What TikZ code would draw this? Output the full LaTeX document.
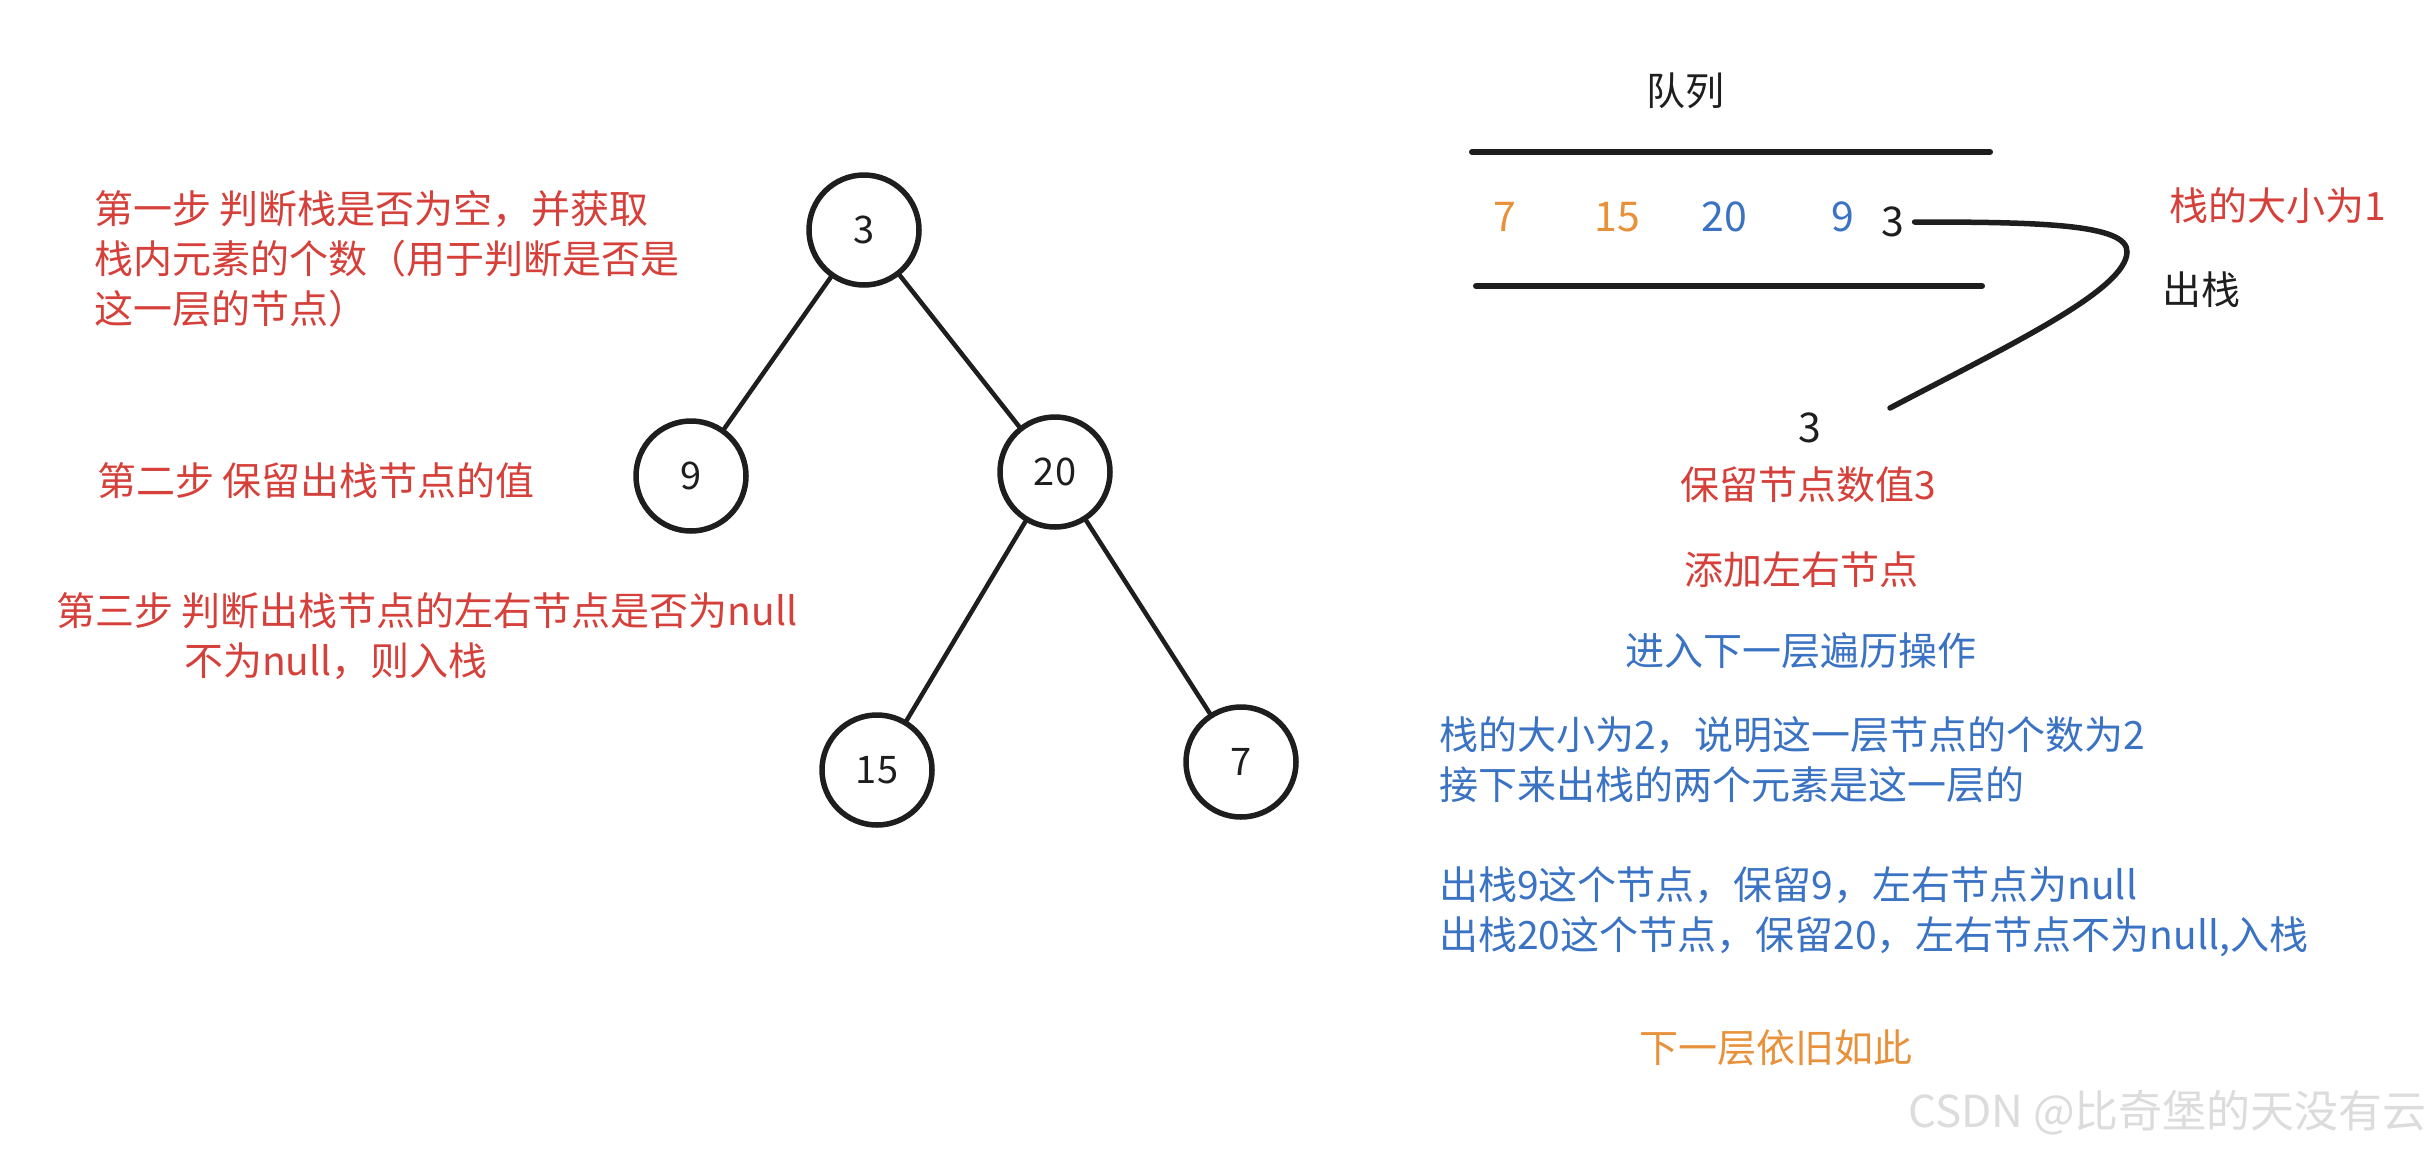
\documentclass[tikz,border=0pt]{standalone}
\usepackage{fontspec}
\setmainfont{Noto Sans CJK SC}
\usepackage{tikz}
\definecolor{stepred}{HTML}{D6403A}
\definecolor{levelblue}{HTML}{3A72C4}
\definecolor{nextorange}{HTML}{E8913A}
\definecolor{inkblack}{HTML}{1E1E1E}
\definecolor{markgray}{HTML}{DCDCDC}

\begin{document}
\begin{tikzpicture}[
  x=1pt, y=-1pt,
  every node/.style={inner sep=0pt, text=inkblack},
  tnode/.style={circle, draw=inkblack, line width=5.5pt, minimum size=110pt,
                font=\fontsize{38}{38}\selectfont},
  edge/.style={line width=4.5pt, draw=inkblack, line cap=round},
  rail/.style={line width=6pt, draw=inkblack, line cap=round},
  note/.style={font=\fontsize{39}{50}\selectfont, align=left, anchor=north west},
  ctext/.style={font=\fontsize{39}{50}\selectfont, align=center},
  qnum/.style={font=\fontsize{41}{41}\selectfont},
]
  \fill[white] (0,0) rectangle (2432,1154);
  \useasboundingbox (0,0) rectangle (2432,1154);

  \node[tnode] (n3) at (864,230) {3};
  \node[tnode] (n9) at (691,476) {9};
  \node[tnode] (n20) at (1055,472) {20};
  \node[tnode] (n15) at (877,770) {15};
  \node[tnode] (n7) at (1241,762) {7};

  \draw[edge] (n3) -- (n9);
  \draw[edge] (n3) -- (n20);
  \draw[edge] (n20) -- (n15);
  \draw[edge] (n20) -- (n7);

  \node[note, text=stepred] (step1) at (94,190) {第一步 判断栈是否为空，并获取\\栈内元素的个数（用于判断是否是\\这一层的节点）};
  \node[note, text=stepred] (step2) at (97,462) {第二步 保留出栈节点的值};
  \node[note, text=stepred] (step3) at (56,592) {第三步 判断出栈节点的左右节点是否为null\\\hspace{128pt}不为null，则入栈};

  \node[ctext] (qtitle) at (1685,91) {队列};
  \draw[rail] (1472,152) -- (1990,152);
  \draw[rail] (1476,286) -- (1982,286);
  \node[qnum, text=nextorange] (q7) at (1505,217) {7};
  \node[qnum, text=nextorange] (q15) at (1617,217) {15};
  \node[qnum, text=levelblue] (q20) at (1724,217) {20};
  \node[qnum, text=levelblue] (q9) at (1843,217) {9};
  \node[qnum] (q3) at (1893,222) {3};
  \node[ctext, text=stepred] (size1) at (2278,206) {栈的大小为1};
  \node[ctext] (pop) at (2201,290) {出栈};
  \node[qnum] (out3) at (1810,428) {3};
  \coordinate (popend) at (1890,408);
  \draw[edge, line width=5.5pt] ([xshift=10pt]q3.east) .. controls (2040,222) and (2128,224) .. (2127,252)
    .. controls (2126,290) and (2010,345) .. (popend);

  \node[ctext, text=stepred] (keep) at (1808,485) {保留节点数值3};
  \node[ctext, text=stepred] (addlr) at (1801,570) {添加左右节点};
  \node[ctext, text=levelblue] (nextlvl) at (1801,651) {进入下一层遍历操作};
  \node[note, text=levelblue] (expl) at (1439,716) {栈的大小为2，说明这一层节点的个数为2\\接下来出栈的两个元素是这一层的\\[50pt]出栈9这个节点，保留9，左右节点为null\\出栈20这个节点，保留20，左右节点不为null,入栈};
  \node[ctext, text=nextorange] (same) at (1776,1048) {下一层依旧如此};

  \node[font=\fontsize{44}{44}\selectfont, text=markgray, anchor=east] (mark) at (2427,1113) {CSDN @比奇堡的天没有云};
\end{tikzpicture}
\end{document}
